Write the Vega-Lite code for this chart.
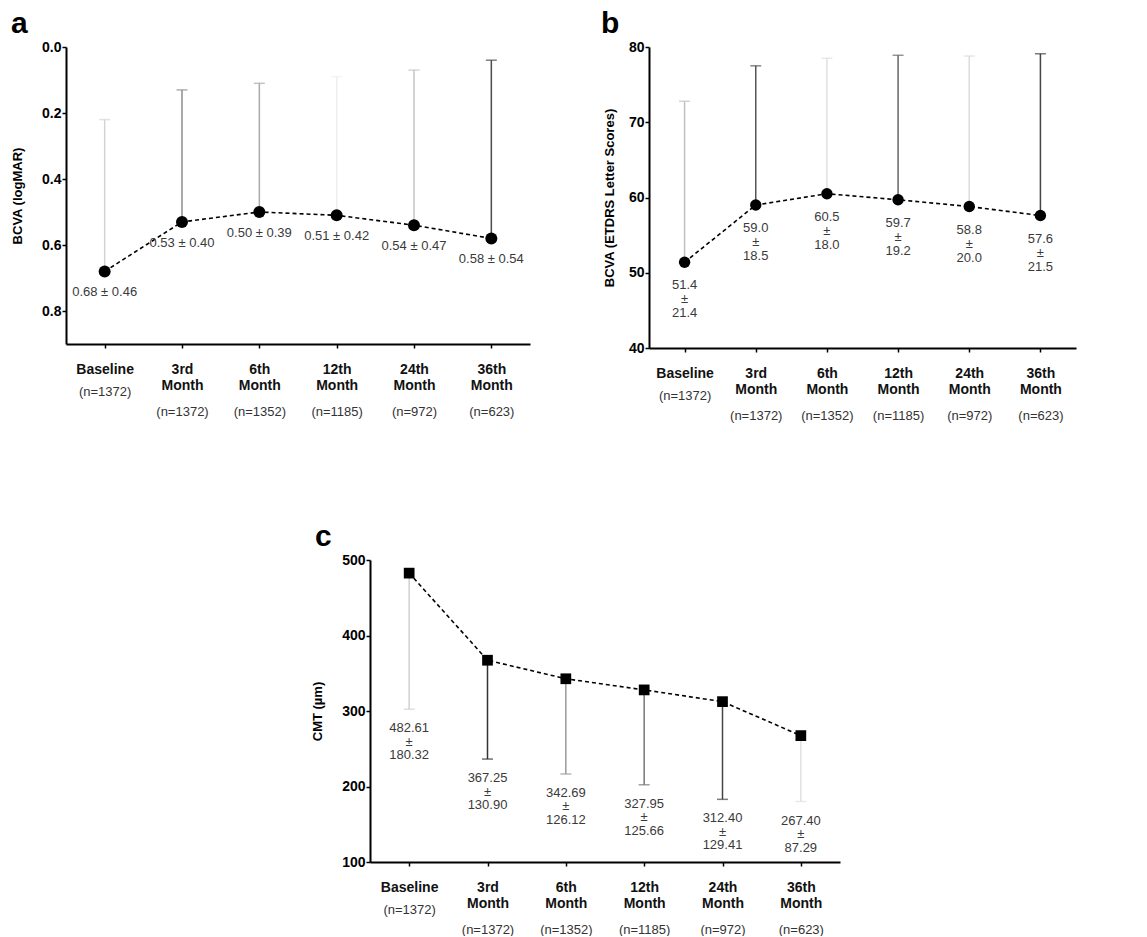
{
  "$schema": "https://vega.github.io/schema/vega-lite/v6.json",
  "background": "white",
  "padding": {"left": 11, "top": 9, "right": 5, "bottom": 0},
  "config": {
    "font": "Liberation Sans",
    "view": {"stroke": null},
    "axis": {"grid": false, "domainColor": "black", "domainWidth": 2, "tickColor": "black", "tickWidth": 1.5, "labelColor": "black", "titleColor": "black", "labelFont": "Liberation Sans", "titleFont": "Liberation Sans"}
  },
  "spacing": 100,
  "resolve": {"scale": {"color": "independent"}},
  "vconcat": [
    {
      "spacing": 71,
      "resolve": {"scale": {"color": "independent"}},
      "hconcat": [
        {
          "width": 464, "height": 297,
          "title": {"text": "a", "anchor": "start", "frame": "group", "fontSize": 30, "fontWeight": "bold", "dx": -55, "offset": -23, "color": "black", "baseline": "alphabetic"},
          "data": {"values": [
            {"tp": "Baseline|(n=1372)", "mean": 0.68, "sd": 0.46, "end": 0.22, "label": "0.68 ± 0.46"},
            {"tp": "3rd Month|(n=1372)", "mean": 0.53, "sd": 0.40, "end": 0.13, "label": "0.53 ± 0.40"},
            {"tp": "6th Month|(n=1352)", "mean": 0.50, "sd": 0.39, "end": 0.11, "label": "0.50 ± 0.39"},
            {"tp": "12th Month|(n=1185)", "mean": 0.51, "sd": 0.42, "end": 0.09, "label": "0.51 ± 0.42"},
            {"tp": "24th Month|(n=972)", "mean": 0.54, "sd": 0.47, "end": 0.07, "label": "0.54 ± 0.47"},
            {"tp": "36th Month|(n=623)", "mean": 0.58, "sd": 0.54, "end": 0.04, "label": "0.58 ± 0.54"}
          ]},
          "resolve": {"axis": {"x": "independent"}},
          "layer": [
            {
              "mark": {"type": "rule", "strokeWidth": 1.5},
              "encoding": {
                "x": {"field": "tp", "type": "nominal", "sort": null, "scale": {"type": "point", "padding": 0.5},
                  "axis": {"orient": "bottom", "title": null, "labelAngle": 0, "labelExpr": "split(split(datum.value, '|')[0], ' ')", "labelFontSize": 14, "labelFontWeight": "bold", "labelLineHeight": 16, "labelBaseline": "top", "tickSize": 4, "labelPadding": 14, "labelColor": "#111"}},
                "y": {"field": "mean", "type": "quantitative", "scale": {"domain": [0, 0.9], "reverse": true, "nice": false, "zero": false},
                  "axis": {"title": "BCVA (logMAR)", "titleFontSize": 13, "titleFontWeight": "bold", "titlePadding": 17, "values": [0, 0.1, 0.2, 0.3, 0.4, 0.5, 0.6, 0.7, 0.8], "labelExpr": "round(datum.value * 10) % 2 == 1 ? '' : format(datum.value, '.1f')", "labelFontSize": 14, "labelFontWeight": "bold", "labelPadding": 1, "tickSize": {"condition": {"test": "round(datum.value * 10) % 2 == 1", "value": 2}, "value": 4}, "labelOverlap": false}},
                "y2": {"field": "end"},
                "color": {"field": "tp", "type": "nominal", "sort": null, "scale": {"range": ["#d4d4d4", "#8e8e8e", "#aaaaaa", "#eeeeee", "#c4c4c4", "#4a4a4a"]}, "legend": null}
              }
            },
            {
              "mark": {"type": "tick", "size": 11, "thickness": 1.5, "orient": "horizontal"},
              "encoding": {
                "x": {"field": "tp", "type": "nominal", "sort": null, "axis": null},
                "y": {"field": "end", "type": "quantitative"},
                "color": {"field": "tp", "type": "nominal", "sort": null, "legend": null}
              }
            },
            {
              "mark": {"type": "line", "strokeDash": [4, 3], "strokeWidth": 1.6, "color": "black"},
              "encoding": {
                "x": {"field": "tp", "type": "nominal", "sort": null, "axis": null},
                "y": {"field": "mean", "type": "quantitative"},
                "order": {"value": null}
              }
            },
            {
              "mark": {"type": "point", "filled": true, "size": 144, "color": "black", "opacity": 1, "shape": "circle"},
              "encoding": {
                "x": {"field": "tp", "type": "nominal", "sort": null, "axis": null},
                "y": {"field": "mean", "type": "quantitative"}
              }
            },
            {
              "mark": {"type": "text", "baseline": "top", "dy": 15, "fontSize": 13, "color": "#3a3a3a"},
              "encoding": {
                "x": {"field": "tp", "type": "nominal", "sort": null,
                  "axis": {"orient": "bottom", "title": null, "labelAngle": 0, "domain": false, "ticks": false, "tickSize": 0, "labelPadding": 41, "labelFontSize": 13, "labelLineHeight": 20, "labelBaseline": "top", "labelColor": "#333", "labelExpr": "indexof(datum.value, 'Baseline') == 0 ? split(datum.value, '|')[1] : ['', split(datum.value, '|')[1]]"}},
                "y": {"field": "mean", "type": "quantitative"},
                "text": {"field": "label"}
              }
            }
          ]
        },
        {
          "width": 427, "height": 301,
          "title": {"text": "b", "anchor": "start", "frame": "group", "fontSize": 30, "fontWeight": "bold", "dx": -48, "offset": -23, "color": "black", "baseline": "alphabetic"},
          "data": {"values": [
            {"tp": "Baseline|(n=1372)", "mean": 51.4, "sd": 21.4, "end": 72.8, "label": "51.4\n±\n21.4"},
            {"tp": "3rd Month|(n=1372)", "mean": 59.0, "sd": 18.5, "end": 77.5, "label": "59.0\n±\n18.5"},
            {"tp": "6th Month|(n=1352)", "mean": 60.5, "sd": 18.0, "end": 78.5, "label": "60.5\n±\n18.0"},
            {"tp": "12th Month|(n=1185)", "mean": 59.7, "sd": 19.2, "end": 78.9, "label": "59.7\n±\n19.2"},
            {"tp": "24th Month|(n=972)", "mean": 58.8, "sd": 20.0, "end": 78.8, "label": "58.8\n±\n20.0"},
            {"tp": "36th Month|(n=623)", "mean": 57.6, "sd": 21.5, "end": 79.1, "label": "57.6\n±\n21.5"}
          ]},
          "resolve": {"axis": {"x": "independent"}},
          "layer": [
            {
              "mark": {"type": "rule", "strokeWidth": 1.5},
              "encoding": {
                "x": {"field": "tp", "type": "nominal", "sort": null, "scale": {"type": "point", "padding": 0.5},
                  "axis": {"orient": "bottom", "title": null, "labelAngle": 0, "labelExpr": "split(split(datum.value, '|')[0], ' ')", "labelFontSize": 14, "labelFontWeight": "bold", "labelLineHeight": 16, "labelBaseline": "top", "tickSize": 4, "labelPadding": 14, "labelColor": "#111"}},
                "y": {"field": "mean", "type": "quantitative", "scale": {"domain": [40, 80], "nice": false, "zero": false},
                  "axis": {"title": "BCVA (ETDRS Letter Scores)", "titleFontSize": 13, "titleFontWeight": "bold", "titlePadding": 12, "values": [40, 45, 50, 55, 60, 65, 70, 75, 80], "labelExpr": "datum.value % 10 == 5 ? '' : format(datum.value, 'd')", "labelFontSize": 14, "labelFontWeight": "bold", "labelPadding": 1, "tickSize": {"condition": {"test": "datum.value % 10 == 5", "value": 2}, "value": 4}, "labelOverlap": false}},
                "y2": {"field": "end"},
                "color": {"field": "tp", "type": "nominal", "sort": null, "scale": {"range": ["#c0c0c0", "#555555", "#e0e0e0", "#666666", "#dcdcdc", "#444444"]}, "legend": null}
              }
            },
            {
              "mark": {"type": "tick", "size": 11, "thickness": 1.5, "orient": "horizontal"},
              "encoding": {
                "x": {"field": "tp", "type": "nominal", "sort": null, "axis": null},
                "y": {"field": "end", "type": "quantitative"},
                "color": {"field": "tp", "type": "nominal", "sort": null, "legend": null}
              }
            },
            {
              "mark": {"type": "line", "strokeDash": [4, 3], "strokeWidth": 1.6, "color": "black"},
              "encoding": {
                "x": {"field": "tp", "type": "nominal", "sort": null, "axis": null},
                "y": {"field": "mean", "type": "quantitative"},
                "order": {"value": null}
              }
            },
            {
              "mark": {"type": "point", "filled": true, "size": 130, "color": "black", "opacity": 1, "shape": "circle"},
              "encoding": {
                "x": {"field": "tp", "type": "nominal", "sort": null, "axis": null},
                "y": {"field": "mean", "type": "quantitative"}
              }
            },
            {
              "mark": {"type": "text", "baseline": "top", "dy": 17, "fontSize": 13, "lineHeight": 14, "lineBreak": "\n", "color": "#3a3a3a"},
              "encoding": {
                "x": {"field": "tp", "type": "nominal", "sort": null,
                  "axis": {"orient": "bottom", "title": null, "labelAngle": 0, "domain": false, "ticks": false, "tickSize": 0, "labelPadding": 41, "labelFontSize": 13, "labelLineHeight": 20, "labelBaseline": "top", "labelColor": "#333", "labelExpr": "indexof(datum.value, 'Baseline') == 0 ? split(datum.value, '|')[1] : ['', split(datum.value, '|')[1]]"}},
                "y": {"field": "mean", "type": "quantitative"},
                "text": {"field": "label"}
              }
            }
          ]
        }
      ]
    },
    {
      "spacing": 0,
      "resolve": {"scale": {"color": "independent"}},
      "hconcat": [
        {
          "width": 244, "height": 10,
          "data": {"values": []},
          "mark": "point",
          "view": {"stroke": "transparent"}
        },
        {
          "width": 470, "height": 302,
          "title": {"text": "c", "anchor": "start", "frame": "group", "fontSize": 30, "fontWeight": "bold", "dx": -55, "offset": -23, "color": "black", "baseline": "alphabetic"},
          "data": {"values": [
            {"tp": "Baseline|(n=1372)", "mean": 482.61, "sd": 180.32, "end": 302.29, "label": "482.61\n±\n180.32"},
            {"tp": "3rd Month|(n=1372)", "mean": 367.25, "sd": 130.90, "end": 236.35, "label": "367.25\n±\n130.90"},
            {"tp": "6th Month|(n=1352)", "mean": 342.69, "sd": 126.12, "end": 216.57, "label": "342.69\n±\n126.12"},
            {"tp": "12th Month|(n=1185)", "mean": 327.95, "sd": 125.66, "end": 202.29, "label": "327.95\n±\n125.66"},
            {"tp": "24th Month|(n=972)", "mean": 312.40, "sd": 129.41, "end": 182.99, "label": "312.40\n±\n129.41"},
            {"tp": "36th Month|(n=623)", "mean": 267.40, "sd": 87.29, "end": 180.11, "label": "267.40\n±\n87.29"}
          ]},
          "resolve": {"axis": {"x": "independent"}},
          "layer": [
            {
              "mark": {"type": "rule", "strokeWidth": 1.5},
              "encoding": {
                "x": {"field": "tp", "type": "nominal", "sort": null, "scale": {"type": "point", "padding": 0.5},
                  "axis": {"orient": "bottom", "title": null, "labelAngle": 0, "labelExpr": "split(split(datum.value, '|')[0], ' ')", "labelFontSize": 14, "labelFontWeight": "bold", "labelLineHeight": 16, "labelBaseline": "top", "tickSize": 4, "labelPadding": 14, "labelColor": "#111"}},
                "y": {"field": "mean", "type": "quantitative", "scale": {"domain": [100, 500], "nice": false, "zero": false},
                  "axis": {"title": "CMT (µm)", "titleFontSize": 13, "titleFontWeight": "bold", "titlePadding": 17, "values": [100, 150, 200, 250, 300, 350, 400, 450, 500], "labelExpr": "datum.value % 100 == 50 ? '' : format(datum.value, 'd')", "labelFontSize": 14, "labelFontWeight": "bold", "labelPadding": 1, "tickSize": {"condition": {"test": "datum.value % 100 == 50", "value": 2}, "value": 4}, "labelOverlap": false}},
                "y2": {"field": "end"},
                "color": {"field": "tp", "type": "nominal", "sort": null, "scale": {"range": ["#d0d0d0", "#333333", "#999999", "#777777", "#444444", "#e0e0e0"]}, "legend": null}
              }
            },
            {
              "mark": {"type": "tick", "size": 11, "thickness": 1.5, "orient": "horizontal"},
              "encoding": {
                "x": {"field": "tp", "type": "nominal", "sort": null, "axis": null},
                "y": {"field": "end", "type": "quantitative"},
                "color": {"field": "tp", "type": "nominal", "sort": null, "legend": null}
              }
            },
            {
              "mark": {"type": "line", "strokeDash": [4, 3], "strokeWidth": 1.6, "color": "black"},
              "encoding": {
                "x": {"field": "tp", "type": "nominal", "sort": null, "axis": null},
                "y": {"field": "mean", "type": "quantitative"},
                "order": {"value": null}
              }
            },
            {
              "mark": {"type": "point", "filled": true, "size": 115, "color": "black", "opacity": 1, "shape": "square"},
              "encoding": {
                "x": {"field": "tp", "type": "nominal", "sort": null, "axis": null},
                "y": {"field": "mean", "type": "quantitative"}
              }
            },
            {
              "mark": {"type": "text", "baseline": "top", "dy": 13, "fontSize": 13, "lineHeight": 13.5, "lineBreak": "\n", "color": "#3a3a3a"},
              "encoding": {
                "x": {"field": "tp", "type": "nominal", "sort": null,
                  "axis": {"orient": "bottom", "title": null, "labelAngle": 0, "domain": false, "ticks": false, "tickSize": 0, "labelPadding": 41, "labelFontSize": 13, "labelLineHeight": 20, "labelBaseline": "top", "labelColor": "#333", "labelExpr": "indexof(datum.value, 'Baseline') == 0 ? split(datum.value, '|')[1] : ['', split(datum.value, '|')[1]]"}},
                "y": {"field": "end", "type": "quantitative"},
                "text": {"field": "label"}
              }
            }
          ]
        }
      ]
    }
  ]
}
